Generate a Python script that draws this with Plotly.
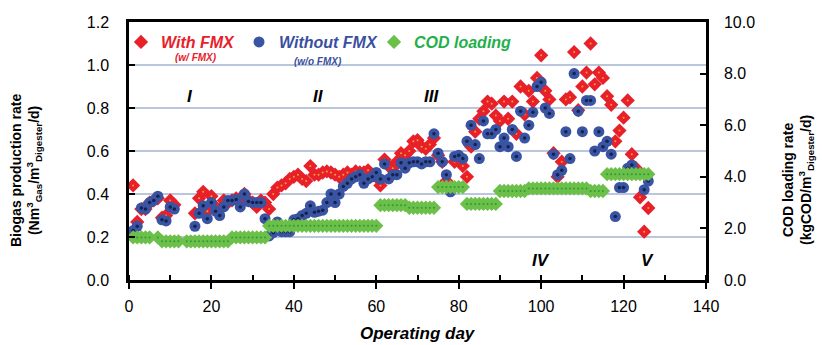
import plotly.graph_objects as go

days = list(range(1, 127))

with_fmx = [0.44, 0.27, 0.33, 0.33, 0.36, 0.37, 0.38, 0.29, 0.30, 0.37,
            0.35, None, None, None, None, 0.31, 0.38, 0.41, 0.32, 0.39,
            0.34, 0.33, 0.37, 0.36, 0.37, 0.38, 0.36, 0.40, 0.37, 0.36,
            0.34, 0.37, 0.36, 0.33, 0.40, 0.43, 0.44, 0.45, 0.47, 0.48,
            0.49, 0.47, 0.46, 0.53, 0.49, 0.49, 0.50, 0.505, 0.50, 0.49,
            0.48, 0.49, 0.50, 0.49, 0.505, 0.50, 0.50, 0.51, 0.49, 0.48,
            0.44, 0.56, 0.53, 0.52, 0.55, 0.59, 0.58, 0.60, 0.645, 0.65,
            0.62, 0.61, 0.63, 0.66, 0.58, 0.55, 0.46, 0.42, 0.55, 0.57,
            0.53, 0.48, 0.62, 0.69, 0.75, 0.785, 0.83, 0.82, 0.765, 0.74,
            0.83, 0.75, 0.83, 0.68, 0.90, 0.77, 0.88, 0.83, 0.94, 1.045,
            0.88, 0.84, 0.59, 0.48, 0.55, 0.84, 0.85, 1.06, 0.79, 0.90,
            0.965, 1.10, 0.91, 0.965, 0.94, 0.855, 0.815, 0.645, 0.695, 0.755,
            0.835, 0.585, 0.52, 0.385, 0.225, 0.335]

without_fmx = [0.23, 0.25, 0.335, 0.33, 0.36, 0.37, 0.39, 0.28, 0.275, 0.34,
               0.33, None, None, None, None, 0.25, 0.31, 0.345, 0.285, 0.36,
               0.32, 0.30, 0.34, 0.37, 0.37, 0.375, 0.34, 0.40, 0.365, 0.36,
               0.36, 0.36, 0.285, 0.205, 0.22, 0.27, 0.225, 0.225, 0.225, 0.28,
               0.285, 0.30, 0.31, 0.345, 0.315, 0.32, 0.325, 0.36, 0.40, 0.36,
               0.40, 0.435, 0.45, 0.47, 0.48, 0.49, 0.45, 0.47, 0.48, 0.50,
               0.47, 0.54, 0.47, 0.49, 0.49, 0.545, 0.52, 0.545, 0.55, 0.55,
               0.54, 0.55, 0.55, 0.68, 0.59, 0.55, 0.49, 0.41, 0.575, 0.58,
               0.565, 0.645, 0.72, 0.63, 0.565, 0.74, 0.68, 0.68, 0.70, 0.62,
               0.66, 0.62, 0.70, 0.575, 0.785, 0.66, 0.72, 0.78, 0.90, 0.92,
               0.80, 0.775, 0.585, 0.49, 0.51, 0.69, 0.565, 0.96, 0.785, 0.69,
               0.835, 0.835, 0.60, 0.69, 0.62, 0.645, 0.585, 0.295, 0.43, 0.43,
               0.52, 0.535, 0.50, None, 0.42, 0.46]

cod_loading = ([1.65] * 5 + [None] + [1.65] + [1.5] * 5 + [None] + [1.5] * 11
               + [1.65] * 9 + [2.1] * 27 + [2.9] * 7 + [2.8] * 7 + [3.6] * 7
               + [2.95] * 8 + [3.45] * 7 + [3.55] * 15 + [3.45] * 4 + [4.1] * 11)

phase_labels = ["I", "II", "III", "IV", "V"]
phase_x = [14.8, 45.9, 73.5, 100.0, 125.7]
phase_y = [0.854, 0.854, 0.854, 0.093, 0.093]

RED = "#E8202A"
BLUE = "#3A54A4"
GREEN = "#6CC04A"
FONT = "Liberation Sans, Arial, sans-serif"

# plot area in pixels
L, R, T, B = 129, 706, 22, 280
PW, PH = R - L, B - T


def px_x(p):
    return (p - L) / PW


def px_y(p):
    return (B - p) / PH


fig = go.Figure()

fig.add_trace(go.Scatter(
    x=days, y=cod_loading, yaxis="y2", mode="markers", legend="legend3",
    name="<b><i><span style='color:#22B04B'>COD loading</span></i></b>",
    marker=dict(symbol="diamond", size=11, color=GREEN, line=dict(width=0))))
fig.add_trace(go.Scatter(
    x=days, y=cod_loading, yaxis="y2", mode="markers", showlegend=False,
    marker=dict(symbol="circle", size=2, color="#2E9A3A")))

fig.add_trace(go.Scatter(
    x=days, y=with_fmx, mode="markers", legend="legend",
    name="<b><i><span style='color:#E8202A'>With FMX</span></i></b>",
    marker=dict(symbol="diamond", size=11, color=RED, line=dict(width=0))))
fig.add_trace(go.Scatter(
    x=days, y=with_fmx, mode="markers", showlegend=False,
    marker=dict(symbol="circle", size=2, color="#F5A030")))

fig.add_trace(go.Scatter(
    x=days, y=without_fmx, mode="markers", legend="legend2",
    name="<b><i><span style='color:#3A4FA0'>Without FMX</span></i></b>",
    marker=dict(symbol="circle", size=11, color=BLUE, line=dict(width=0))))
fig.add_trace(go.Scatter(
    x=days, y=without_fmx, mode="markers", showlegend=False,
    marker=dict(symbol="circle", size=3.5, color="#14224E")))

annotations = []
for lab, xx, yy in zip(phase_labels, phase_x, phase_y):
    annotations.append(dict(x=xx, y=yy, xref="x", yref="y", text="<b><i>%s</i></b>" % lab,
                            showarrow=False, xanchor="center", yanchor="middle",
                            font=dict(family=FONT, size=17, color="black")))

annotations += [
    dict(x=px_x(196), y=px_y(57), xref="paper", yref="paper",
         text="<b><i>(w/ FMX)</i></b>", showarrow=False, xanchor="center", yanchor="middle",
         font=dict(family=FONT, size=10, color=RED)),
    dict(x=px_x(318), y=px_y(61), xref="paper", yref="paper",
         text="<b><i>(w/o FMX)</i></b>", showarrow=False, xanchor="center", yanchor="middle",
         font=dict(family=FONT, size=10, color="#3A4FA0")),
    dict(x=px_x(418), y=px_y(333), xref="paper", yref="paper",
         text="<b><i>Operating day</i></b>", showarrow=False, xanchor="center", yanchor="middle",
         font=dict(family=FONT, size=17, color="black")),
    dict(x=px_x(26), y=px_y(171), xref="paper", yref="paper",
         text="<b>Biogas production rate<br>(Nm<sup>3</sup><sub>Gas</sub>/m<sup>3</sup><sub>Digester</sub>/d)</b>",
         textangle=-90, showarrow=False, xanchor="center", yanchor="middle",
         font=dict(family=FONT, size=14, color="black")),
    dict(x=px_x(798), y=px_y(180), xref="paper", yref="paper",
         text="<b>COD loading rate<br>(kgCOD/m<sup>3</sup><sub>Digester</sub>/d)</b>",
         textangle=-90, showarrow=False, xanchor="center", yanchor="middle",
         font=dict(family=FONT, size=14, color="black")),
]

leg_common = dict(orientation="h", xanchor="left", yanchor="middle",
                  bgcolor="rgba(0,0,0,0)", borderwidth=0,
                  font=dict(family=FONT, size=16), itemwidth=30)

fig.update_layout(
    width=822, height=345,
    margin=dict(l=L, r=822 - R, t=T, b=345 - B, autoexpand=False),
    paper_bgcolor="white", plot_bgcolor="white",
    font=dict(family=FONT, size=16, color="black"),
    showlegend=True,
    legend=dict(x=px_x(121), y=px_y(42), **leg_common),
    legend2=dict(x=px_x(239), y=px_y(42), **leg_common),
    legend3=dict(x=px_x(374), y=px_y(42), **leg_common),
    xaxis=dict(range=[0, 140], dtick=20, tick0=0, showgrid=False, zeroline=False,
               showline=True, linecolor="black", linewidth=2.5, mirror=True,
               ticks="outside", ticklen=6, tickwidth=2, tickcolor="black",
               minor=dict(dtick=10, ticks="inside", ticklen=5, tickwidth=2, tickcolor="black"),
               tickfont=dict(family=FONT, size=16), ticklabelstandoff=4, automargin=False),
    yaxis=dict(range=[0, 1.2], dtick=0.2, tick0=0, tickformat=".1f",
               showgrid=True, gridcolor="#BAC6DC", gridwidth=1.5, zeroline=False,
               showline=True, linecolor="black", linewidth=2.5,
               ticks="inside", ticklen=6, tickwidth=2, tickcolor="black",
               tickfont=dict(family=FONT, size=16), ticklabelstandoff=14, automargin=False),
    yaxis2=dict(range=[0, 10], dtick=2, tick0=0, tickformat=".1f",
                overlaying="y", side="right", showgrid=False, zeroline=False,
                showline=True, linecolor="black", linewidth=2.5,
                ticks="inside", ticklen=6, tickwidth=2, tickcolor="black",
                tickfont=dict(family=FONT, size=16), ticklabelstandoff=12, automargin=False),
    annotations=annotations,
)

fig.write_html("out.html",
               config={"displayModeBar": False},
               post_script="document.body.style.margin='0';document.body.style.padding='0';"
                           "document.body.style.overflow='hidden';")
